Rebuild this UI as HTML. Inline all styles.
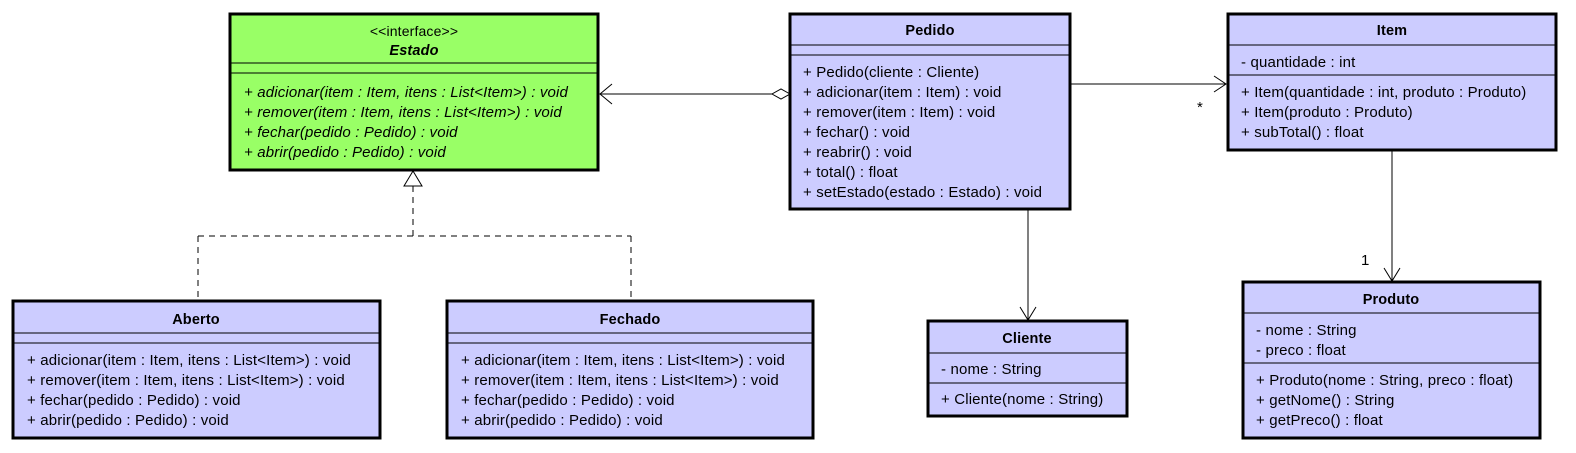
<!DOCTYPE html>
<html><head><meta charset="utf-8"><style>
html,body{margin:0;padding:0;background:#fff;}
svg{display:block;}
text{font-family:"Liberation Sans",Arial,sans-serif;font-size:15px;letter-spacing:0.15px;fill:#000;}
.t{font-weight:bold;text-anchor:middle;font-size:14.5px;}
.i{font-style:italic;}
</style></head><body>
<svg width="1576" height="453" viewBox="0 0 1576 453" xmlns="http://www.w3.org/2000/svg">
<g stroke="#000" fill="none" stroke-width="1">
<line x1="600" y1="94" x2="772" y2="94"/>
<polyline points="612,84 600,94 612,104"/>
<polygon points="790,94 781,89 772,94 781,99" fill="#fff"/>
<line x1="1070" y1="84" x2="1226" y2="84"/>
<polyline points="1214,76 1226,84 1214,92"/>
<line x1="1392" y1="150" x2="1392" y2="281"/>
<polyline points="1384,268 1392,281 1400,268"/>
<line x1="1028" y1="209" x2="1028" y2="320"/>
<polyline points="1020,307 1028,320 1036,307"/>
<g stroke-dasharray="6,5">
<line x1="413" y1="186" x2="413" y2="236"/>
<line x1="198" y1="236" x2="631" y2="236"/>
<line x1="198" y1="236" x2="198" y2="300"/>
<line x1="631" y1="236" x2="631" y2="300"/>
</g>
<polygon points="413,171 404,186 422,186" fill="#fff"/>
</g>
<g stroke="#000" stroke-width="3">
<rect x="230" y="14" width="368" height="156" fill="#99ff66"/>
<rect x="790" y="14" width="280" height="195" fill="#ccccff"/>
<rect x="1228" y="14" width="328" height="136" fill="#ccccff"/>
<rect x="1243" y="282" width="297" height="156" fill="#ccccff"/>
<rect x="928" y="321" width="199" height="95" fill="#ccccff"/>
<rect x="13" y="301" width="367" height="137" fill="#ccccff"/>
<rect x="447" y="301" width="366" height="137" fill="#ccccff"/>
</g>
<g stroke="#000" stroke-width="1">
<line x1="230" y1="63" x2="598" y2="63"/><line x1="230" y1="73" x2="598" y2="73"/>
<line x1="790" y1="45" x2="1070" y2="45"/><line x1="790" y1="55" x2="1070" y2="55"/>
<line x1="1228" y1="45" x2="1556" y2="45"/><line x1="1228" y1="75" x2="1556" y2="75"/>
<line x1="1243" y1="313" x2="1540" y2="313"/><line x1="1243" y1="363" x2="1540" y2="363"/>
<line x1="928" y1="353" x2="1127" y2="353"/><line x1="928" y1="383" x2="1127" y2="383"/>
<line x1="13" y1="333" x2="380" y2="333"/><line x1="13" y1="343" x2="380" y2="343"/>
<line x1="447" y1="333" x2="813" y2="333"/><line x1="447" y1="343" x2="813" y2="343"/>
</g>
<text x="414" y="36" text-anchor="middle" style="font-size:14px">&lt;&lt;interface&gt;&gt;</text>
<text x="414" y="55" class="t i">Estado</text>
<text x="244" y="97" class="i">+ adicionar(item : Item, itens : List&lt;Item&gt;) : void</text>
<text x="244" y="117" class="i">+ remover(item : Item, itens : List&lt;Item&gt;) : void</text>
<text x="244" y="137" class="i">+ fechar(pedido : Pedido) : void</text>
<text x="244" y="157" class="i">+ abrir(pedido : Pedido) : void</text>
<text x="930" y="35" class="t">Pedido</text>
<text x="803" y="77">+ Pedido(cliente : Cliente)</text>
<text x="803" y="97">+ adicionar(item : Item) : void</text>
<text x="803" y="117">+ remover(item : Item) : void</text>
<text x="803" y="137">+ fechar() : void</text>
<text x="803" y="157">+ reabrir() : void</text>
<text x="803" y="177">+ total() : float</text>
<text x="803" y="197">+ setEstado(estado : Estado) : void</text>
<text x="1392" y="35" class="t">Item</text>
<text x="1241" y="67">- quantidade : int</text>
<text x="1241" y="97">+ Item(quantidade : int, produto : Produto)</text>
<text x="1241" y="117">+ Item(produto : Produto)</text>
<text x="1241" y="137">+ subTotal() : float</text>
<text x="1197" y="112">*</text>
<text x="1361" y="265">1</text>
<text x="1391" y="304" class="t">Produto</text>
<text x="1256" y="335">- nome : String</text>
<text x="1256" y="355">- preco : float</text>
<text x="1256" y="385">+ Produto(nome : String, preco : float)</text>
<text x="1256" y="405">+ getNome() : String</text>
<text x="1256" y="425">+ getPreco() : float</text>
<text x="1027" y="343" class="t">Cliente</text>
<text x="941" y="374">- nome : String</text>
<text x="941" y="404">+ Cliente(nome : String)</text>
<text x="196" y="324" class="t">Aberto</text>
<text x="27" y="365">+ adicionar(item : Item, itens : List&lt;Item&gt;) : void</text>
<text x="27" y="385">+ remover(item : Item, itens : List&lt;Item&gt;) : void</text>
<text x="27" y="405">+ fechar(pedido : Pedido) : void</text>
<text x="27" y="425">+ abrir(pedido : Pedido) : void</text>
<text x="630" y="324" class="t">Fechado</text>
<text x="461" y="365">+ adicionar(item : Item, itens : List&lt;Item&gt;) : void</text>
<text x="461" y="385">+ remover(item : Item, itens : List&lt;Item&gt;) : void</text>
<text x="461" y="405">+ fechar(pedido : Pedido) : void</text>
<text x="461" y="425">+ abrir(pedido : Pedido) : void</text>
</svg>
</body></html>
